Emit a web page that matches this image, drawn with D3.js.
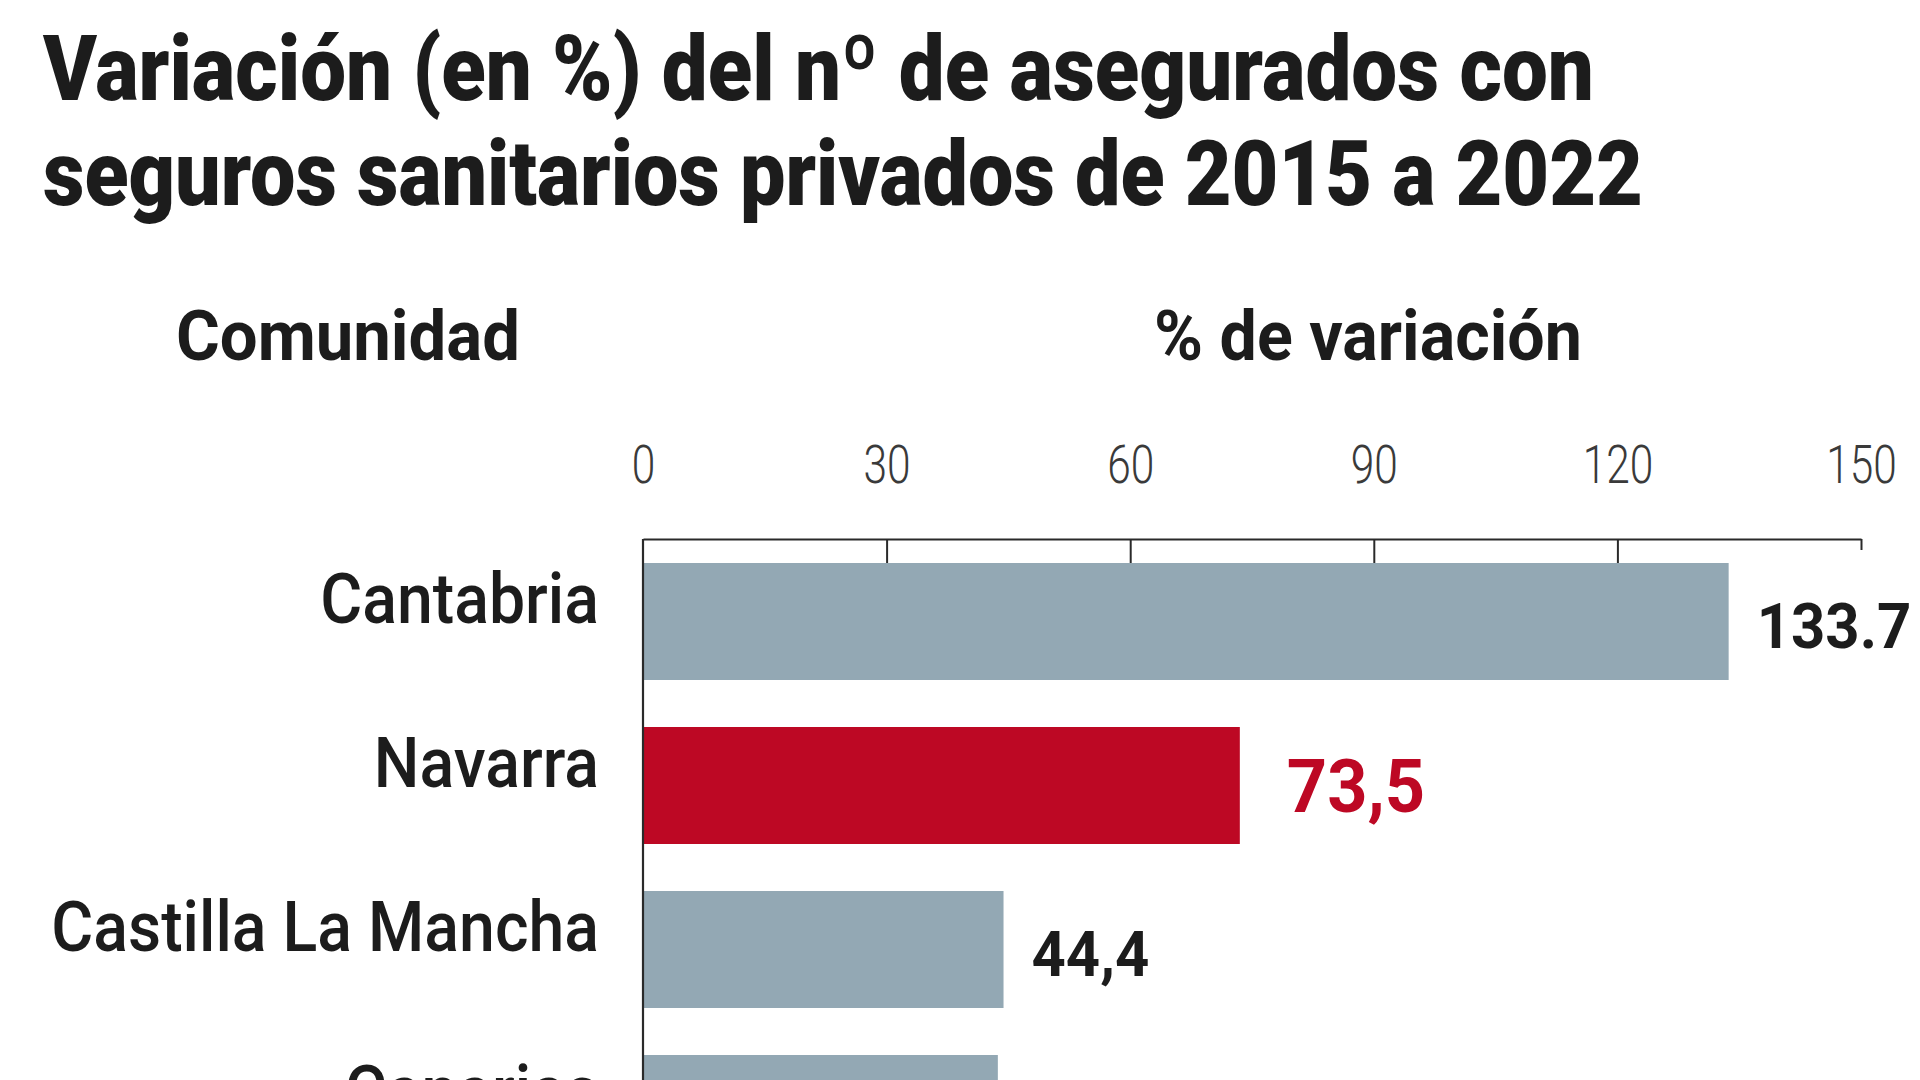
<!DOCTYPE html>
<html>
<head>
<meta charset="utf-8">
<script src="https://cdn.jsdelivr.net/npm/d3@7"></script>
<style>
  html, body { margin: 0; padding: 0; background: #ffffff; overflow: hidden; }
  svg { display: block; }
  text { font-family: Roboto, "Noto Sans", sans-serif; }
</style>
</head>
<body>
<svg id="chart" width="1920" height="1080"></svg>
<script>
// ---- data ----
const titleLines = ["Variación (en %) del nº de asegurados con", "seguros sanitarios privados de 2015 a 2022"];
const categoryHeader = "Comunidad";
const valueHeader = "% de variación";
const categories = ["Cantabria", "Navarra", "Castilla La Mancha", "Canarias"];
const values = [133.7, 73.5, 44.4, 43.7];
const valueLabels = ["133.7", "73,5", "44,4", "43,7"];
const highlighted = ["Navarra"];
const tickValues = [0, 30, 60, 90, 120, 150];

// ---- layout / style ----
const W = 1920, H = 1080;
const plotLeft = 643, plotRight = 1861, axisY = 539, barsTop = 563;
const stepH = 164, gapH = 47;
const grey = "#93a8b4", red = "#bd0824", ink = "#1c1c1c";

const svg = d3.select("#chart");

function fitWidth(sel, target) {
  sel.each(function () {
    const w = this.getComputedTextLength();
    const k = target / w;
    const x = +this.getAttribute("x") || 0;
    const y = +this.getAttribute("y") || 0;
    d3.select(this).attr("x", 0).attr("y", 0)
      .attr("transform", `translate(${x},${y}) scale(${k},1)`);
  });
}
function condense(sel, k) {
  sel.each(function () {
    const x = +this.getAttribute("x") || 0;
    const y = +this.getAttribute("y") || 0;
    d3.select(this).attr("x", 0).attr("y", 0)
      .attr("transform", `translate(${x},${y}) scale(${k},1)`);
  });
}

// title
const titleWidths = [1551, 1600];
svg.append("g").selectAll("text").data(titleLines).join("text")
  .attr("x", 43).attr("y", (d, i) => 100 + i * 105)
  .attr("font-size", 91).attr("font-weight", 900).attr("fill", ink)
  .text(d => d)
  .each(function (d, i) { fitWidth(d3.select(this), titleWidths[i]); });

// headers
svg.append("text").attr("x", 176).attr("y", 360)
  .attr("font-size", 70).attr("font-weight", 700).attr("fill", ink)
  .text(categoryHeader).call(fitWidth, 344);
svg.append("text").attr("x", 1154).attr("y", 360)
  .attr("font-size", 70).attr("font-weight", 700).attr("fill", ink)
  .text(valueHeader).call(fitWidth, 428);

// scales
const x = d3.scaleLinear().domain([0, 150]).range([plotLeft, plotRight]);
const y = d3.scaleBand().domain(categories)
  .range([barsTop, barsTop + stepH * categories.length - gapH])
  .paddingInner(gapH / stepH).paddingOuter(0);

// x axis (top)
const xAxis = svg.append("g").attr("transform", `translate(0,${axisY})`)
  .call(d3.axisTop(x).tickValues(tickValues).tickSizeInner(-24).tickSizeOuter(0).tickPadding(56));
xAxis.select(".domain").attr("stroke", "#2a2a2a").attr("stroke-width", 2.2);
xAxis.selectAll(".tick line").attr("stroke", "#2a2a2a").attr("stroke-width", 2)
  .attr("y2", d => d === 150 ? 11 : (d === 0 ? 0 : 24));
xAxis.selectAll(".tick text")
  .attr("font-size", 53).attr("font-weight", 300).attr("fill", "#3a3a3a")
  .attr("font-family", "Roboto, sans-serif")
  .call(condense, 0.8);

// bars
svg.append("g").selectAll("rect").data(categories).join("rect")
  .attr("x", x(0))
  .attr("y", d => y(d))
  .attr("width", (d, i) => x(values[i]) - x(0))
  .attr("height", y.bandwidth())
  .attr("fill", d => highlighted.includes(d) ? red : grey);

// y axis line
svg.append("line")
  .attr("x1", x(0)).attr("x2", x(0))
  .attr("y1", axisY).attr("y2", H)
  .attr("stroke", "#2a2a2a").attr("stroke-width", 2.2);

// category labels
const yAxis = svg.append("g").attr("transform", `translate(${x(0)},0)`)
  .call(d3.axisLeft(y).tickSize(0).tickPadding(44));
yAxis.select(".domain").remove();
yAxis.selectAll(".tick text")
  .attr("font-size", 70).attr("font-weight", 500).attr("fill", ink)
  .attr("font-family", "Roboto, sans-serif")
  .attr("dy", "0.02em")
  .call(condense, 0.92);

// value labels (only rows whose label falls inside the picture)
const shown = categories.filter(d => y(d) + 85 < H);
svg.append("g").selectAll("text").data(shown).join("text")
  .attr("x", d => x(values[categories.indexOf(d)]) + (highlighted.includes(d) ? 47 : 28))
  .attr("y", d => y(d) + 85)
  .attr("font-size", d => highlighted.includes(d) ? 74 : 63)
  .attr("font-weight", 700)
  .attr("fill", d => highlighted.includes(d) ? red : ink)
  .text(d => valueLabels[categories.indexOf(d)])
  .call(condense, 0.95);
</script>
</body>
</html>
